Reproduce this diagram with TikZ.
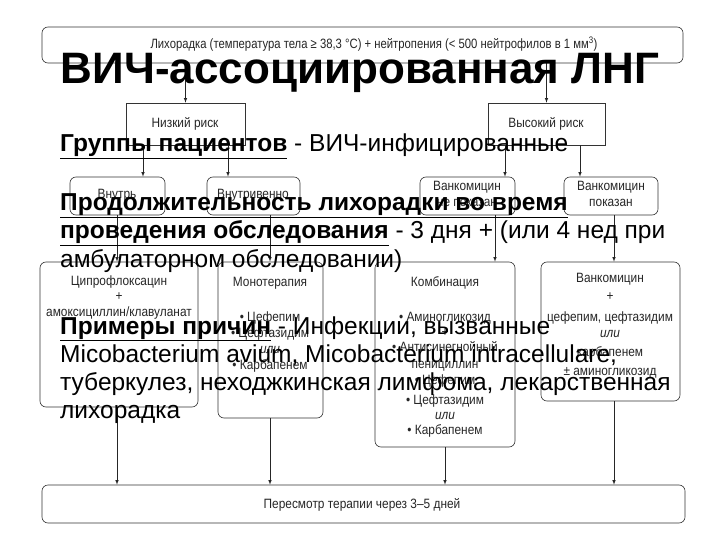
\documentclass[tikz,border=0pt]{standalone}
\usepackage{fontspec}
\setmainfont{Liberation Sans}
\begin{document}
\begin{tikzpicture}[x=1pt,y=-1pt,
  box/.style={draw=black!80,line width=0.6pt,rounded corners=6pt,inner sep=0},
  sq/.style={draw=black!80,line width=0.6pt,inner sep=0},
  fc/.style={font=\fontsize{13.5}{15}\selectfont,xscale=0.88,transform shape,inner sep=0,anchor=base,text=black!85},
  big/.style={font=\fontsize{24.5}{28}\selectfont,inner sep=0,anchor=base west},
  arr/.style={->,>=latex,line width=0.6pt,black!85}]
\useasboundingbox (0,0) rectangle (720,540);
\fill[white] (0,0) rectangle (720,540);
% boxes
\node[box,minimum width=641pt,minimum height=36pt] (top) at (362.5,45) {};
\node[sq,minimum width=119pt,minimum height=42pt] (low) at (185.5,124) {};
\node[sq,minimum width=117pt,minimum height=42pt] (high) at (546.5,124) {};
\node[box,minimum width=95pt,minimum height=38pt] (b1) at (117.5,196) {};
\node[box,minimum width=93pt,minimum height=38pt] (b2) at (253.5,196) {};
\node[box,minimum width=95pt,minimum height=38pt] (b3) at (467.5,196) {};
\node[box,minimum width=94pt,minimum height=38pt] (b4) at (611,196) {};
\node[box,minimum width=158pt,minimum height=145pt] (c1) at (119,334.5) {};
\node[box,minimum width=105pt,minimum height=156pt] (c2) at (270.5,340) {};
\node[box,minimum width=140pt,minimum height=185pt] (c3) at (445,354.5) {};
\node[box,minimum width=139pt,minimum height=139pt] (c4) at (610.5,331.5) {};
\node[box,minimum width=643pt,minimum height=38pt] (bot) at (363.5,504) {};
% coordinates
\coordinate (x1) at (143,0); \coordinate (x2) at (228,0);
\coordinate (x3) at (505,0); \coordinate (x4) at (580,0);
\coordinate (x5) at (117,0); \coordinate (x6) at (270,0);
\coordinate (x7) at (495,0); \coordinate (x8) at (614,0);
\coordinate (x9) at (445,0);
% arrows
\draw[arr] (top.south -| low.north) -- (low.north);
\draw[arr] (top.south -| high.north) -- (high.north);
\draw[arr] (low.south -| x1) -- (b1.north -| x1);
\draw[arr] (low.south -| x2) -- (b2.north -| x2);
\draw[arr] (high.south -| x3) -- (b3.north -| x3);
\draw[arr] (high.south -| x4) -- (b4.north -| x4);
\draw[arr] (b1.south -| x5) -- (c1.north -| x5);
\draw[arr] (b2.south -| x6) -- (c2.north -| x6);
\draw[arr] (b3.south -| x7) -- (c3.north -| x7);
\draw[arr] (b4.south -| x8) -- (c4.north -| x8);
\draw[arr] (c1.south -| x5) -- (bot.north -| x5);
\draw[arr] (c2.south -| x6) -- (bot.north -| x6);
\draw[arr] (c3.south -| x9) -- (bot.north -| x9);
\draw[arr] (c4.south -| x8) -- (bot.north -| x8);
% flowchart texts
\node[fc,xscale=0.95] (t0) at (374,49) {Лихорадка (температура тела ≥ 38,3 °C) + нейтропения (< 500 нейтрофилов в 1 мм\textsuperscript{3})};
\node[fc] (t1) at (185,128) {Низкий риск};
\node[fc] (t2) at (546,128) {Высокий риск};
\node[fc] (t3) at (117,199) {Внутрь};
\node[fc] (t4) at (253,199) {Внутривенно};
\node[fc] (t5) at (467,191) {Ванкомицин};
\node[fc] (t6) at (467,207) {не показан};
\node[fc] (t7) at (611,191) {Ванкомицин};
\node[fc] (t8) at (611,207) {показан};
\node[fc] (c1a) at (119,285) {Ципрофлоксацин};
\node[fc] (c1b) at (119,300) {+};
\node[fc] (c1c) at (119,316) {амоксициллин/клавуланат};
\node[fc] (c2a) at (270,286) {Монотерапия};
\node[fc] (c2b) at (270,321) {• Цефепим};
\node[fc] (c2c) at (270,337) {• Цефтазидим};
\node[fc] (c2d) at (270,353) {\itshape или};
\node[fc] (c2e) at (270,369) {• Карбапенем};
\node[fc] (c3a) at (445,286) {Комбинация};
\node[fc] (c3b) at (445,321) {• Аминогликозид};
\node[fc] (c3c) at (445,336) {+};
\node[fc] (c3d) at (445,351) {• Антисинегнойный};
\node[fc] (c3e) at (445,368) {пенициллин};
\node[fc] (c3f) at (445,384) {• Цефепим};
\node[fc] (c3g) at (445,404) {• Цефтазидим};
\node[fc] (c3h) at (445,419) {\itshape или};
\node[fc] (c3i) at (445,434) {• Карбапенем};
\node[fc] (c4a) at (610,282) {Ванкомицин};
\node[fc] (c4b) at (610,300) {+};
\node[fc] (c4c) at (610,321) {цефепим, цефтазидим};
\node[fc] (c4d) at (610,337) {\itshape или};
\node[fc] (c4e) at (610,356) {карбапенем};
\node[fc] (c4f) at (610,375) {± аминогликозид};
\node[fc] (tb) at (362,508) {Пересмотр терапии через 3–5 дней};
% overlay slide text
\node[font=\bfseries\fontsize{44}{48}\selectfont,inner sep=0,anchor=base] (title) at (360,84) {ВИЧ-ассоциированная ЛНГ};
\node[big] (l1) at (60,152) {\textbf{\underline{Группы пациентов}} - ВИЧ-инфицированные};
\node[big] (l2) at (60,211) {\textbf{\underline{Продолжительность лихорадки во время}}};
\node[big] (l3) at (60,239) {\textbf{\underline{проведения обследования}} - 3 дня + (или 4 нед при};
\node[big] (l4) at (60,267) {амбулаторном обследовании)};
\node[big] (l5) at (60,334) {\textbf{\underline{Примеры причин}} - Инфекции, вызванные};
\node[big] (l6) at (60,362) {Micobacterium avium, Micobacterium intracellulare,};
\node[big] (l7) at (60,390) {туберкулез, неходжкинская лимфома, лекарственная};
\node[big] (l8) at (60,418) {лихорадка};
\end{tikzpicture}
\end{document}
